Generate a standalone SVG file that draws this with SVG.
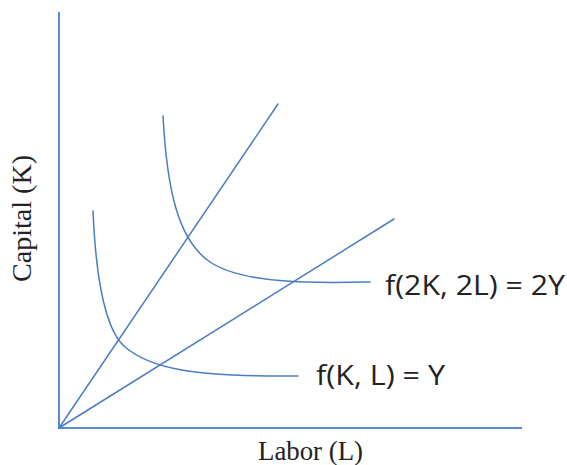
<svg xmlns="http://www.w3.org/2000/svg" width="567" height="465" viewBox="0 0 567 465">
<style>
.ln{fill:none;stroke:#4a7cc4;stroke-width:1.5;stroke-linecap:round}
.ax{fill:none;stroke:#5b8bd0;stroke-width:2}
.serif{font-family:"Liberation Serif","Times New Roman",serif;font-size:27px;fill:#222}
.sans{font-family:"Open Sans","Noto Sans",sans-serif;font-size:28px;fill:#222}
</style>
<rect width="567" height="465" fill="#fff"/>
<g id="axes">
<line class="ax" x1="59" y1="12" x2="59" y2="429"/>
<line class="ax" x1="58" y1="428" x2="522" y2="428"/>
</g>
<g id="connectors">
<line class="ln" x1="59" y1="428" x2="278" y2="104"/>
<line class="ln" x1="59" y1="428" x2="394" y2="219"/>
</g>
<g id="isoquant-Y">
<path class="ln" d="M93,211 C96,280 105,330 125,347 C150,368 190,377 298,376"/>
<text class="sans" x="316" y="385" textLength="129" lengthAdjust="spacingAndGlyphs">f(K, L) = Y</text>
</g>
<g id="isoquant-2Y">
<path class="ln" d="M163,116 C167,190 178,240 210,262 C245,285 320,283 370,282"/>
<text class="sans" x="385" y="295" textLength="180" lengthAdjust="spacingAndGlyphs">f(2K, 2L) = 2Y</text>
</g>
<g id="labels">
<text class="serif" x="258" y="460" textLength="105" lengthAdjust="spacingAndGlyphs">Labor (L)</text>
<text class="serif" transform="translate(31,282) rotate(-90)" textLength="127" lengthAdjust="spacingAndGlyphs">Capital (K)</text>
</g>
</svg>
